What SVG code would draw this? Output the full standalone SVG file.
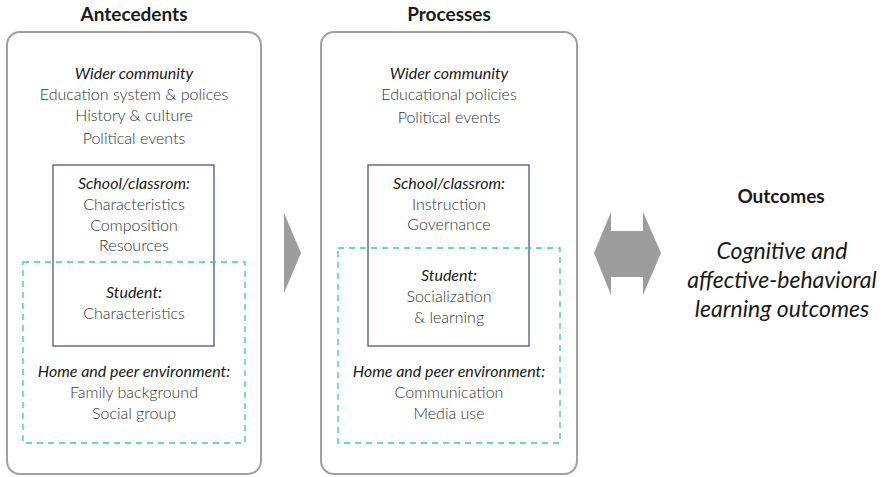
<svg xmlns="http://www.w3.org/2000/svg" width="882" height="477" viewBox="0 0 882 477">
<style>
text{font-family:Lato,"Noto Sans","Liberation Sans",sans-serif;text-anchor:middle;}
.h{font-size:19px;font-weight:bold;fill:#1a1a1a;}
.i{font-size:16px;font-style:italic;fill:#1a1a1a;}
.r{font-size:16px;font-weight:300;fill:#333333;}
.o{font-size:23px;font-style:italic;fill:#1a1a1a;}
.outer{fill:none;stroke:#a0a0a0;stroke-width:2;}
.solid{fill:none;stroke:#4a5587;stroke-width:1.3;}
.dash{fill:none;stroke:#3fc9a6;stroke-width:1.3;stroke-dasharray:6 5;}
.arr{fill:#9d9d9d;}
</style>
<g id="antecedents">
<text class="h" x="134" y="21">Antecedents</text>
<rect class="outer" x="7" y="32" width="254" height="442" rx="13"/>
<text class="i" x="134" y="79">Wider community</text>
<text class="r" x="134" y="100">Education system &amp; polices</text>
<text class="r" x="134" y="121">History &amp; culture</text>
<text class="r" x="134" y="144">Political events</text>
<rect class="solid" x="53" y="165" width="161" height="181"/>
<rect class="dash" x="23" y="262" width="222" height="181"/>
<text class="i" x="134" y="189">School/classrom:</text>
<text class="r" x="134" y="210">Characteristics</text>
<text class="r" x="134" y="231">Composition</text>
<text class="r" x="134" y="251">Resources</text>
<text class="i" x="134" y="298">Student:</text>
<text class="r" x="134" y="319">Characteristics</text>
<text class="i" x="134" y="377">Home and peer environment:</text>
<text class="r" x="134" y="398">Family background</text>
<text class="r" x="134" y="419">Social group</text>
</g>
<g id="processes">
<text class="h" x="449" y="21">Processes</text>
<rect class="outer" x="321" y="32" width="256" height="442" rx="13"/>
<text class="i" x="449" y="79">Wider community</text>
<text class="r" x="449" y="100">Educational policies</text>
<text class="r" x="449" y="123">Political events</text>
<rect class="solid" x="368" y="165" width="161" height="181"/>
<rect class="dash" x="338" y="248" width="222" height="195"/>
<text class="i" x="449" y="189">School/classrom:</text>
<text class="r" x="449" y="210">Instruction</text>
<text class="r" x="449" y="230">Governance</text>
<text class="i" x="449" y="281">Student:</text>
<text class="r" x="449" y="302">Socialization</text>
<text class="r" x="449" y="323">&amp; learning</text>
<text class="i" x="449" y="377">Home and peer environment:</text>
<text class="r" x="449" y="398">Communication</text>
<text class="r" x="449" y="419">Media use</text>
</g>
<g id="outcomes">
<text class="h" x="781" y="203">Outcomes</text>
<text class="o" x="782" y="259">Cognitive and</text>
<text class="o" x="782" y="288">affective-behavioral</text>
<text class="o" x="782" y="317">learning outcomes</text>
</g>
<g id="connectors">
<polygon class="arr" points="284,213 301,253 284,293"/>
<polygon class="arr" points="594,253 611,212 611,231 643,231 643,212 661,253 643,295 643,277 611,277 611,295"/>
</g>
</svg>
